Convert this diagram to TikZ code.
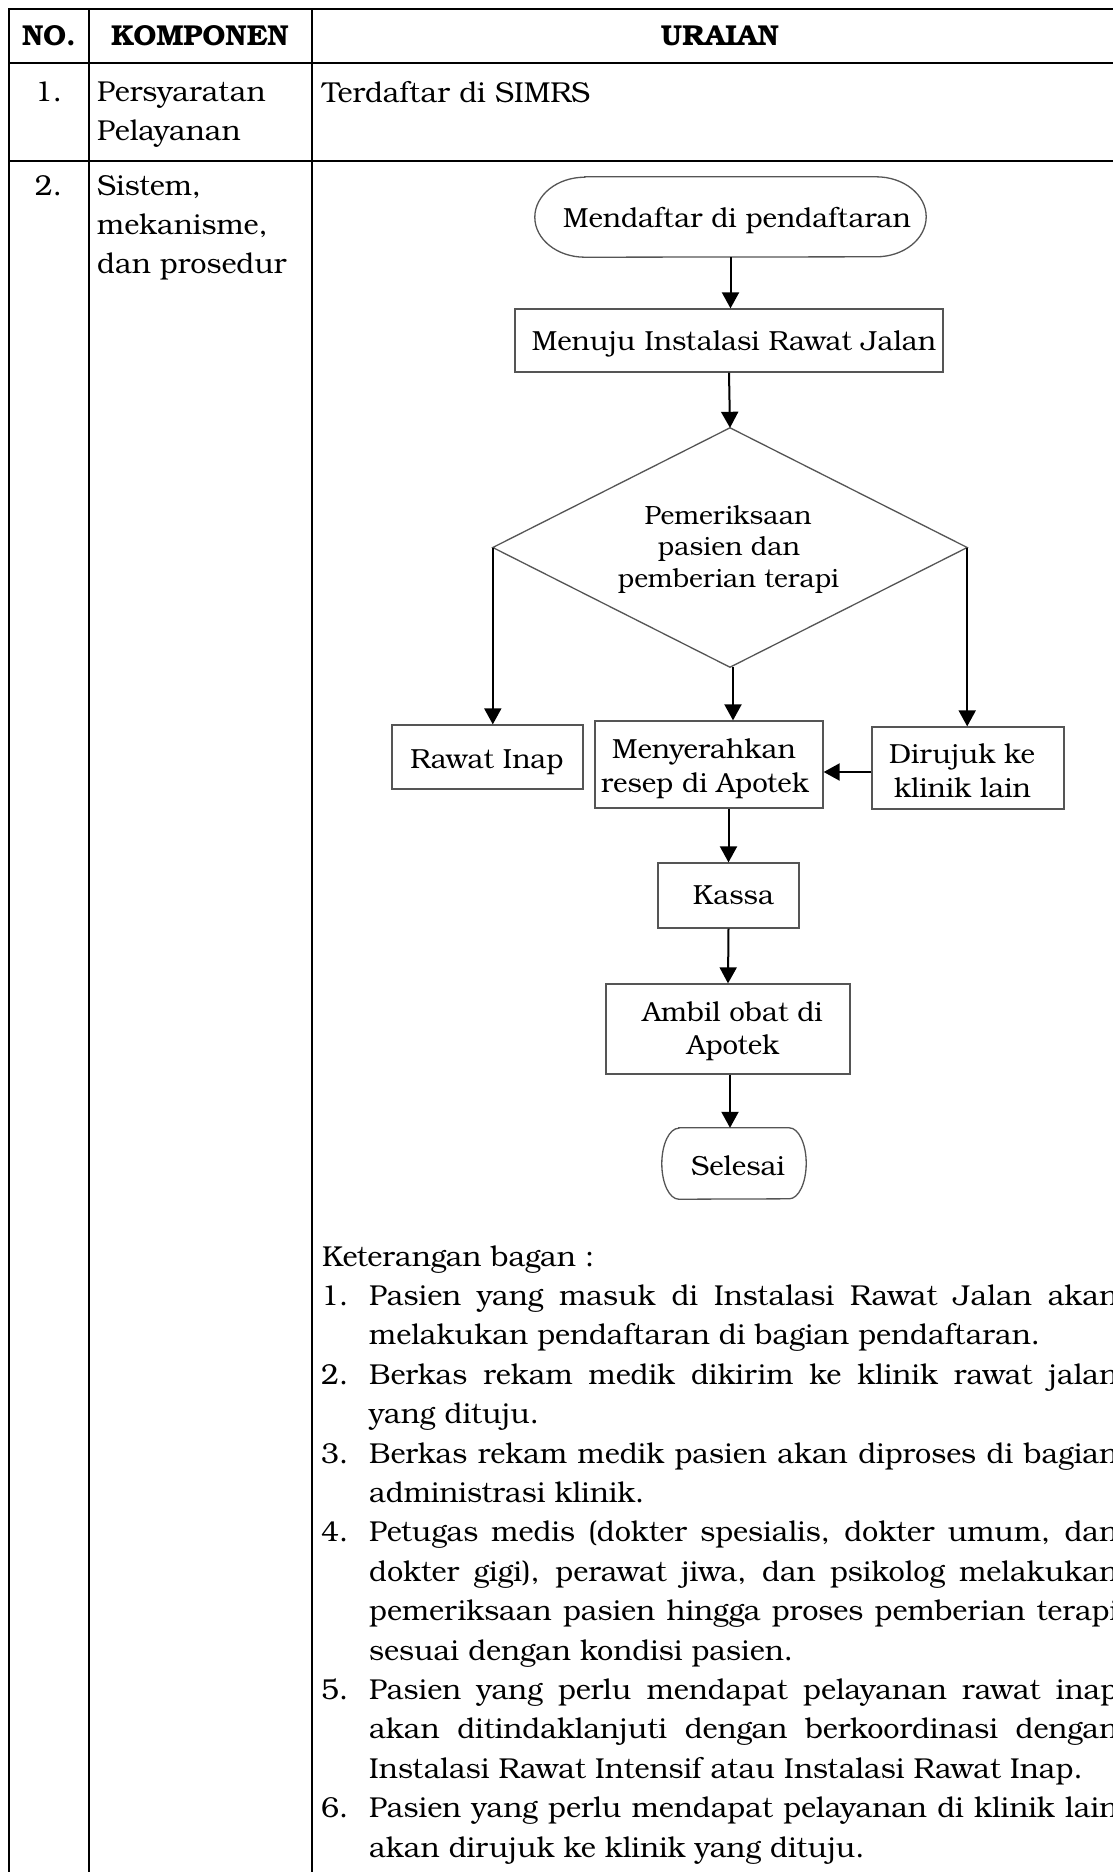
\documentclass[tikz,border=0pt]{standalone}
\usepackage{fontspec}
\setmainfont{TeX Gyre Bonum}
\usetikzlibrary{arrows.meta}
\definecolor{boxgray}{RGB}{85,85,85}
\newcommand{\just}[1]{\makebox[749pt][s]{#1}}
\begin{document}
\begin{tikzpicture}[x=1pt,y=-1pt,
  rule/.style={line width=2pt, black},
  txt/.style={inner sep=0pt, anchor=base west, font=\fontsize{28.8pt}{39.4pt}\selectfont},
  ctxt/.style={inner sep=0pt, anchor=base, font=\fontsize{28.8pt}{39.4pt}\selectfont},
  head/.style={inner sep=0pt, anchor=base, font=\fontsize{28.8pt}{39.4pt}\selectfont\bfseries},
  flow/.style={inner sep=0pt, anchor=base, font=\fontsize{27.6pt}{34pt}\selectfont},
  dtxt/.style={inner sep=0pt, anchor=base, font=\fontsize{26.4pt}{31.5pt}\selectfont},
  frame/.style={inner sep=0pt},
  procbox/.style={draw=boxgray, line width=1.3pt, inner sep=0pt},
  outline/.style={draw=boxgray, line width=1.3pt},
  arr/.style={line width=2pt, -{Triangle[length=16pt,width=17pt]}}
]
\useasboundingbox (0,0) rectangle (1113,1872);
\fill[white] (0,0) rectangle (1113,1872);

% table grid
\draw[rule] (1150,9) -- (9,9) -- (9,1900);
\draw[rule] (89,9) -- (89,1900);
\draw[rule] (312,9) -- (312,1900);
\draw[rule] (9,63) -- (1150,63);
\draw[rule] (9,161) -- (1150,161);

% header
\node[head] (hno) at (49,45) {NO.};
\node[head] (hkomp) at (200,45) {KOMPONEN};
\node[head] (hurai) at (720,45) {URAIAN};

% row 1
\node[ctxt] (n1) at (48.5,101) {1.};
\node[txt] (k1a) at (97,101) {Persyaratan};
\node[txt] (k1b) at (97,140.4) {Pelayanan};
\node[txt] (u1) at (322,102) {Terdaftar di SIMRS};

% row 2
\node[ctxt] (n2) at (48.5,195) {2.};
\node[txt] (k2a) at (97,195) {Sistem,};
\node[txt] (k2b) at (97,234.4) {mekanisme,};
\node[txt] (k2c) at (97,273.8) {dan prosedur};

% flowchart shapes
\node[frame, minimum width=391pt, minimum height=80pt] (start) at (730.5,217) {};
\draw[outline] ([xshift=50pt]start.north west) -- ([xshift=-50pt]start.north east)
  arc[start angle=-90, end angle=90, x radius=50, y radius=40]
  -- ([xshift=50pt]start.south west)
  arc[start angle=90, end angle=270, x radius=50, y radius=40] -- cycle;

\node[procbox, minimum width=428pt, minimum height=63pt] (menuju) at (729,340.5) {};

\node[frame, minimum width=474pt, minimum height=239pt] (dia) at (730,547.5) {};
\draw[outline] (dia.north) -- (dia.east) -- (dia.south) -- (dia.west) -- cycle;

\node[procbox, minimum width=191pt, minimum height=64pt] (rawat) at (487.5,757) {};
\node[procbox, minimum width=228pt, minimum height=87pt] (menyer) at (709,764.5) {};
\node[procbox, minimum width=192pt, minimum height=82pt] (rujuk) at (968,768) {};
\node[procbox, minimum width=141pt, minimum height=65pt] (kassa) at (728.5,895.5) {};
\node[procbox, minimum width=244pt, minimum height=90pt] (ambil) at (728,1029) {};

\node[frame, minimum width=144pt, minimum height=71pt] (selesai) at (734,1163.5) {};
\draw[outline] ([xshift=17pt]selesai.north west) -- ([xshift=-17pt]selesai.north east)
  arc[start angle=-90, end angle=90, x radius=17, y radius=35.5]
  -- ([xshift=17pt]selesai.south west)
  arc[start angle=90, end angle=270, x radius=17, y radius=35.5] -- cycle;

% flowchart texts
\node[flow] (tstart) at (737,227) {Mendaftar di pendaftaran};
\node[flow] (tmenuju) at (734,350) {Menuju Instalasi Rawat Jalan};
\node[dtxt] (tdia1) at (728,524) {Pemeriksaan};
\node[dtxt] (tdia2) at (729,555) {pasien dan};
\node[dtxt] (tdia3) at (728.5,587) {pemberian terapi};
\node[flow] (trawat) at (487,768) {Rawat Inap};
\node[flow] (tmenyer1) at (704,758) {Menyerahkan};
\node[flow] (tmenyer2) at (705,792) {resep di Apotek};
\node[flow] (trujuk1) at (962,763) {Dirujuk ke};
\node[flow] (trujuk2) at (962.5,797) {klinik lain};
\node[flow] (tkassa) at (733.5,904) {Kassa};
\node[flow] (tambil1) at (732.5,1021) {Ambil obat di};
\node[flow] (tambil2) at (733,1054) {Apotek};
\node[flow] (tselesai) at (738,1175) {Selesai};

% connectors
\draw[arr] (start.south) -- (start.south |- menuju.north);
\draw[arr] (menuju.south) -- (dia.north);
\draw[arr] (dia.west) -- (dia.west |- rawat.north);
\draw[arr] ([xshift=3pt]dia.south) -- ([xshift=3pt]dia.south |- menyer.north);
\draw[arr] (dia.east) -- (dia.east |- rujuk.north);
\draw[arr] ([yshift=-4pt]rujuk.west) -- ([yshift=-4pt]rujuk.west -| menyer.east);
\draw[arr] (menyer.south -| kassa.north) -- (kassa.north);
\draw[arr] (kassa.south) -- (ambil.north);
\draw[arr] ([xshift=2pt]ambil.south) -- ([xshift=2pt]ambil.south |- selesai.north);

% notes below the chart
\node[txt] (ket) at (322,1266) {Keterangan bagan :};
\node[txt] (i1) at (321,1305.4) {1.};
\node[txt] (l1) at (369,1305.4) {\just{Pasien yang masuk di Instalasi Rawat Jalan akan}};
\node[txt] (l2) at (369,1344.8) {melakukan pendaftaran di bagian pendaftaran.};
\node[txt] (i2) at (321,1384.2) {2.};
\node[txt] (l3) at (369,1384.2) {\just{Berkas rekam medik dikirim ke klinik rawat jalan}};
\node[txt] (l4) at (369,1423.6) {yang dituju.};
\node[txt] (i3) at (321,1463) {3.};
\node[txt] (l5) at (369,1463) {\just{Berkas rekam medik pasien akan diproses di bagian}};
\node[txt] (l6) at (369,1502.4) {administrasi klinik.};
\node[txt] (i4) at (321,1541.8) {4.};
\node[txt] (l7) at (369,1541.8) {\just{Petugas medis (dokter spesialis, dokter umum, dan}};
\node[txt] (l8) at (369,1581.2) {\just{dokter gigi), perawat jiwa, dan psikolog melakukan}};
\node[txt] (l9) at (369,1620.6) {\just{pemeriksaan pasien hingga proses pemberian terapi}};
\node[txt] (l10) at (369,1660) {sesuai dengan kondisi pasien.};
\node[txt] (i5) at (321,1699.4) {5.};
\node[txt] (l11) at (369,1699.4) {\just{Pasien yang perlu mendapat pelayanan rawat inap}};
\node[txt] (l12) at (369,1738.8) {\just{akan ditindaklanjuti dengan berkoordinasi dengan}};
\node[txt] (l13) at (369,1778.2) {Instalasi Rawat Intensif atau Instalasi Rawat Inap.};
\node[txt] (i6) at (321,1817.6) {6.};
\node[txt] (l14) at (369,1817.6) {\just{Pasien yang perlu mendapat pelayanan di klinik lain}};
\node[txt] (l15) at (369,1857) {akan dirujuk ke klinik yang dituju.};
\end{tikzpicture}
\end{document}
